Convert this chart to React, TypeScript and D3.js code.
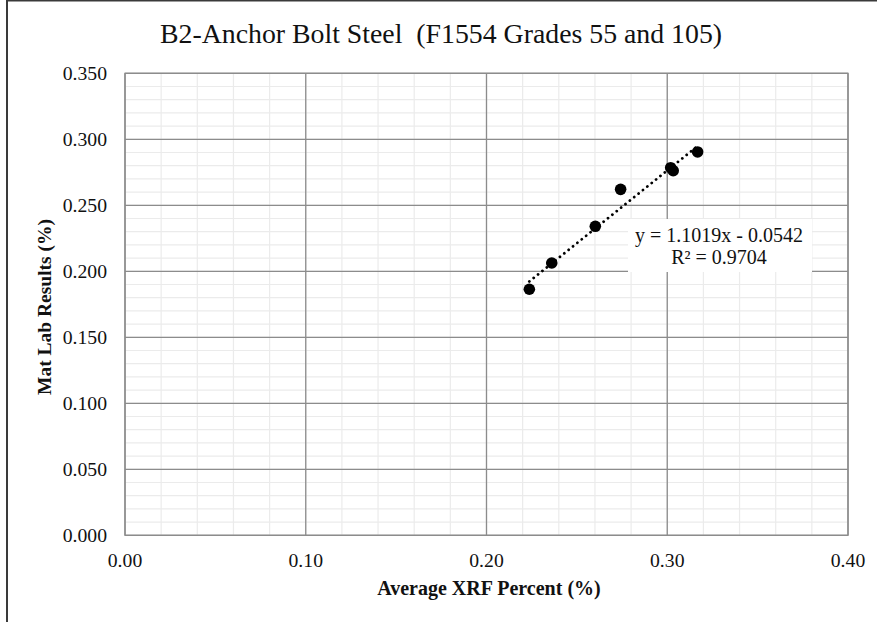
import { useMemo } from 'react';
import * as d3 from 'd3';

const xrfPercent = [0.2237, 0.2361, 0.2602, 0.2742, 0.3019, 0.3033, 0.3168];
const labResults = [0.1864, 0.2063, 0.2341, 0.2621, 0.2785, 0.2762, 0.2904];
const xTicks = [0, 0.1, 0.2, 0.3, 0.4];
const yTicks = [0, 0.05, 0.1, 0.15, 0.2, 0.25, 0.3, 0.35];
const trendSlope = 1.1019;
const trendIntercept = -0.0542;
const trendLabels = ['y = 1.1019x - 0.0542', 'R² = 0.9704'];

const title = 'B2-Anchor Bolt Steel  (F1554 Grades 55 and 105)';
const xTitle = 'Average XRF Percent (%)';
const yTitle = 'Mat Lab Results (%)';

const width = 877;
const height = 622;
const font = '"Liberation Serif", "Times New Roman", serif';

export default function App() {
  const xScale = useMemo(
    () => d3.scaleLinear().domain([0, 0.4]).range([125, 848]),
    []
  );
  const yScale = useMemo(
    () => d3.scaleLinear().domain([0, 0.35]).range([535.3, 73.3]),
    []
  );

  const xMinor = d3.range(0, 0.4001, 0.02);
  const yMinor = d3.range(0, 0.3501, 0.01);

  const points = xrfPercent.map((x, i) => ({ x, y: labResults[i] }));
  const xMin = d3.min(xrfPercent) as number;
  const xMax = d3.max(xrfPercent) as number;
  const trend = d3
    .line<number>()
    .x((d) => xScale(d))
    .y((d) => yScale(trendSlope * d + trendIntercept))([xMin, xMax]);

  const [x0, x1] = xScale.range();
  const [y0, y1] = yScale.range();

  return (
    <svg
      width={width}
      height={height}
      style={{ position: 'absolute', left: 0, top: 0, background: 'white' }}
      fontFamily={font}
    >
      <rect width={width} height={height} fill="white" />
      {/* chart frame, only left and top edges visible */}
      <line x1={7} x2={7} y1={0} y2={height} stroke="#3a3a3a" strokeWidth={2} />
      <line x1={6} x2={width} y1={0.75} y2={0.75} stroke="#3a3a3a" strokeWidth={1.5} />

      <text
        x={160}
        y={43}
        fontSize={27.8}
        fill="#111"
        style={{ whiteSpace: 'pre' }}
      >
        {title}
      </text>

      {/* minor grid */}
      {yMinor.map((v, i) => (
        <line
          key={'ym' + i}
          x1={x0}
          x2={x1}
          y1={yScale(v)}
          y2={yScale(v)}
          stroke="#ebebeb"
          strokeWidth={1.2}
        />
      ))}
      {xMinor.map((v, i) => (
        <line
          key={'xm' + i}
          x1={xScale(v)}
          x2={xScale(v)}
          y1={y1}
          y2={y0}
          stroke="#ebebeb"
          strokeWidth={1.2}
        />
      ))}
      {/* major grid */}
      {yTicks.map((v, i) => (
        <line
          key={'yM' + i}
          x1={x0}
          x2={x1}
          y1={yScale(v)}
          y2={yScale(v)}
          stroke="#8c8c8c"
          strokeWidth={1.3}
        />
      ))}
      {xTicks.map((v, i) => (
        <line
          key={'xM' + i}
          x1={xScale(v)}
          x2={xScale(v)}
          y1={y1}
          y2={y0}
          stroke="#8c8c8c"
          strokeWidth={1.3}
        />
      ))}
      <rect
        x={x0}
        y={y1}
        width={x1 - x0}
        height={y0 - y1}
        fill="none"
        stroke="#8c8c8c"
        strokeWidth={1.3}
      />

      {/* tick labels */}
      {yTicks.map((v, i) => (
        <text
          key={'yl' + i}
          x={107}
          y={yScale(v) + 6.8}
          fontSize={19.7}
          textAnchor="end"
          fill="#111"
        >
          {d3.format('.3f')(v)}
        </text>
      ))}
      {xTicks.map((v, i) => (
        <text
          key={'xl' + i}
          x={xScale(v)}
          y={567}
          fontSize={19.7}
          textAnchor="middle"
          fill="#111"
        >
          {d3.format('.2f')(v)}
        </text>
      ))}

      {/* axis titles */}
      <text
        x={489}
        y={595}
        fontSize={20}
        fontWeight="bold"
        textAnchor="middle"
        fill="#111"
      >
        {xTitle}
      </text>
      <text
        transform="translate(51, 307) rotate(-90)"
        fontSize={19.5}
        fontWeight="bold"
        textAnchor="middle"
        fill="#111"
      >
        {yTitle}
      </text>

      {/* trendline */}
      <path
        d={trend ?? ''}
        fill="none"
        stroke="#000"
        strokeWidth={2.8}
        strokeLinecap="round"
        strokeDasharray="0.01 5.6"
      />

      {/* points */}
      {points.map((p, i) => (
        <circle key={i} cx={xScale(p.x)} cy={yScale(p.y)} r={5.8} fill="#000" />
      ))}

      {/* trendline label */}
      <rect x={628} y={219} width={184} height={53} fill="white" />
      {trendLabels.map((t, i) => (
        <text
          key={i}
          x={719}
          y={242.3 + i * 22}
          fontSize={20}
          textAnchor="middle"
          fill="#111"
        >
          {t}
        </text>
      ))}
    </svg>
  );
}
